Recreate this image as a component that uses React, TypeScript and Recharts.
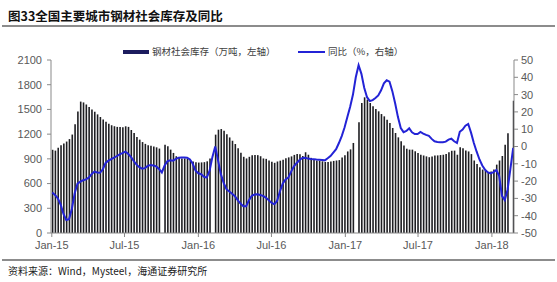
import { Bar, ComposedChart, Line, XAxis, YAxis } from "recharts";

// weekly data, first week ends 2015-01-02
const firstWeek = "2015-01-02";

// 钢材社会库存（万吨）, null = holiday week without data
const stock: (number | null)[] = [
  1010, 1000, 1035, 1065, 1085, 1110, 1140, 1195, 1320, 1475,
  1595, 1585, 1560, 1528, 1500, 1472, 1440, 1408, 1378, 1350,
  1325, 1308, 1296, 1288, 1287, 1284, 1295, 1288, 1250, 1215,
  1165, 1133, 1104, 1082, 1065, 1060, 1050, 1040, 1025, null,
  1072, 1052, 1012, 972, 932, 912, 905, 905, 900, 885,
  868, 858, 855, 857, 860, 870, 905, null, 1194, 1254,
  1262, 1240, 1200, 1160, 1120, 1080, 1030, 975, 925, 905,
  925, 945, 948, 945, 932, 905, 900, 880, 865, 852,
  868, 878, 890, 908, 918, 930, 948, 958, 955, 935,
  980, 950, 912, 892, 880, 878, 870, 862, 862, 868,
  875, 880, 885, 915, 945, 990, 1015, 1093, null, 1343,
  1578, 1647, 1619, 1578, 1538, 1505, 1477, 1444, 1416, 1376,
  1335, 1275, 1214, 1161, 1113, 1063, 1023, 1012, 1012, 992,
  971, 950, 941, 930, 920, 930, 940, 942, 946, 950,
  958, 980, 998, 1000, 950, 1040, 1030, 1000, 990, 958,
  880, 838, 798, 770, 756, 742, 748, 770, 830, 880,
  935, 1072, 1210, null, 1605,
];

// 同比（%）
const yoy: number[] = [
  -26.6, -28, -30, -33.5, -39, -42.5, -42, -36, -27, -21.5,
  -20.3, -19.5, -19, -18, -16, -14.5, -15, -15.2, -13.3, -9.5,
  -8.2, -7.3, -6.5, -5.5, -4.6, -3.8, -3, -4.2, -6, -8.4,
  -10.5, -12, -12.8, -12.5, -11.2, -10.7, -11, -11.5, -13, -15,
  -11, -8.5, -8, -8.2, -7.2, -6.5, -6.3, -6.3, -6.5, -7.5,
  -10, -14, -15.5, -16, -17.5, -18, -14, -6, 0, -8,
  -16, -21, -24.7, -26, -27.3, -28.7, -31, -33, -34.5, -34.5,
  -31, -28.5, -27.8, -27.6, -28, -28.5, -29.5, -31, -32.5, -33.4,
  -31.5, -26, -21.5, -19, -18, -14.5, -11.5, -9.5, -7.8, -6.6,
  -6.5, -7, -7.2, -7.3, -7.5, -7.6, -7.8, -8, -6.8, -5.5,
  -3.5, -1.5, 2, 6, 11, 17, 23, 30, 40, 47,
  42, 34, 28.5, 26.3, 26.8, 28, 29.5, 32.5, 36.5, 38.3,
  37.5, 32, 25, 17, 10.7, 8.3, 9, 10.5, 8.2, 7.2,
  7.2, 8.4, 7.5, 6.7, 6.2, 4.4, 3, 2.6, 2.5, 2.5,
  2.8, 4, 4.5, 3, 2, 8.5, 9.8, 12, 13, 8,
  2, -3, -7.5, -11, -13.5, -15, -15.5, -14.8, -13.6, -17,
  -28.5, -31, -25, -13, -0.8,
];

const tickLabels = ["Jan-15", "Jul-15", "Jan-16", "Jul-16", "Jan-17", "Jul-17", "Jan-18"];
const tickDates = ["2015-01-01", "2015-07-01", "2016-01-01", "2016-07-01", "2017-01-01", "2017-07-01", "2018-01-01"];
const leftTicks = [0, 300, 600, 900, 1200, 1500, 1800, 2100];
const rightTicks = [-50, -40, -30, -20, -10, 0, 10, 20, 30, 40, 50];

const DAY = 86400000;
const origin = Date.parse("2015-01-01");
const dayOf = (iso: string) => Math.round((Date.parse(iso) - origin) / DAY);

const start = dayOf(firstWeek);
const data = stock.map((v, i) => ({ day: start + 7 * i, stock: v, yoy: yoy[i] }));
const xTicks = tickDates.map(dayOf);
const lastDay = data[data.length - 1].day;

const axisColor = "#898989";
const tickStyle = { fill: "#595959", fontSize: 11, fontFamily: "'Liberation Sans', Arial, sans-serif" };
const cjk = "'Noto Sans CJK SC', sans-serif";

export default function App() {
  return (
    <div style={{ position: "absolute", left: 0, top: 0, width: 557, height: 282, background: "#fff", overflow: "hidden" }}>
      <div style={{ position: "absolute", left: 8, top: 6, fontFamily: cjk, fontWeight: 700, fontSize: 12.5, color: "#111", whiteSpace: "nowrap" }}>
        图33全国主要城市钢材社会库存及同比
      </div>
      <div style={{ position: "absolute", left: 2, top: 25, width: 553, height: 2, background: "#8c8c8c" }} />

      <div style={{ position: "absolute", left: 123, top: 50, width: 26, height: 4, background: "#1c1c5e" }} />
      <div style={{ position: "absolute", left: 152, top: 44, fontFamily: cjk, fontSize: 9.5, color: "#404040", whiteSpace: "nowrap" }}>
        钢材社会库存（万吨，左轴）
      </div>
      <div style={{ position: "absolute", left: 298, top: 51, width: 27, height: 2, background: "#2323d6" }} />
      <div style={{ position: "absolute", left: 328, top: 44, fontFamily: cjk, fontSize: 9.5, color: "#404040", whiteSpace: "nowrap" }}>
        同比（%，右轴）
      </div>

      <div style={{ position: "absolute", left: 0, top: 0 }}>
        <ComposedChart width={557} height={282} data={data} margin={{ top: 60, right: 3, bottom: 29, left: 6 }}>
          <XAxis
            dataKey="day"
            type="number"
            domain={[start - 3, lastDay + 2]}
            ticks={xTicks}
            tickFormatter={(d: number) => tickLabels[xTicks.indexOf(d)] ?? ""}
            allowDataOverflow
            height={20}
            tick={tickStyle}
            tickSize={4}
            tickMargin={4}
            stroke={axisColor}
          />
          <YAxis
            yAxisId="left"
            domain={[0, 2100]}
            ticks={leftTicks}
            width={45}
            tick={tickStyle}
            tickSize={4}
            tickMargin={5}
            stroke={axisColor}
          />
          <YAxis
            yAxisId="right"
            orientation="right"
            domain={[-50, 50]}
            ticks={rightTicks}
            width={40}
            tick={tickStyle}
            tickSize={4}
            tickMargin={3}
            stroke={axisColor}
          />
          <Bar yAxisId="left" dataKey="stock" fill="#1e1e22" barSize={1.6} isAnimationActive={false} />
          <Line
            yAxisId="right"
            dataKey="yoy"
            type="linear"
            stroke="#2323d6"
            strokeWidth={2}
            dot={false}
            isAnimationActive={false}
          />
        </ComposedChart>
      </div>

      <div style={{ position: "absolute", left: 2, top: 259, width: 553, height: 2, background: "#8c8c8c" }} />
      <div style={{ position: "absolute", left: 8, top: 263, fontFamily: cjk, fontSize: 10, color: "#222", whiteSpace: "nowrap" }}>
        资料来源：Wind，Mysteel，海通证券研究所
      </div>
    </div>
  );
}
